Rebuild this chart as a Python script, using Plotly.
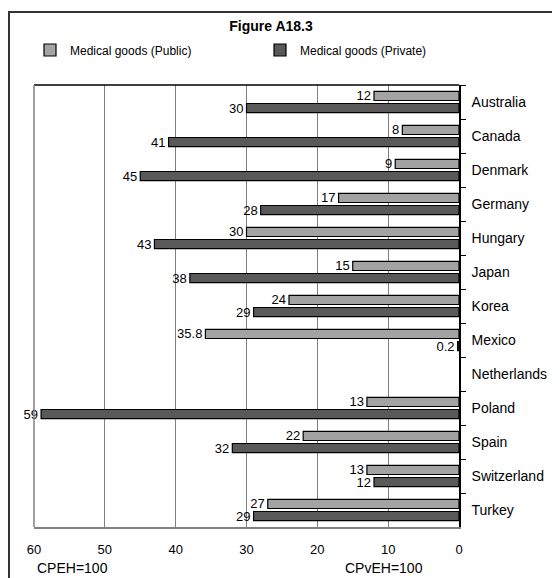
import plotly.graph_objects as go

countries = ["Australia", "Canada", "Denmark", "Germany", "Hungary", "Japan", "Korea",
             "Mexico", "Netherlands", "Poland", "Spain", "Switzerland", "Turkey"]
public_vals = [12, 8, 9, 17, 30, 15, 24, 35.8, None, 13, 22, 13, 27]
private_vals = [30, 41, 45, 28, 43, 38, 29, 0.2, None, 59, 32, 12, 29]
x_ticks = [60, 50, 40, 30, 20, 10, 0]

FONT = "Arial, Liberation Sans, sans-serif"

def labels(vals):
    return ["" if v is None else (f"{v:g}") for v in vals]

# page body has an 8px margin: figure coords = screen coords - 8
W, H = 552, 570
L, R, T, B = 26, 101, 77, 51
pw = W - L - R
ph = H - T - B

def px_to_paper_x(px):
    return (px - L) / pw

def px_to_paper_y(py):
    return (H - B - py) / ph

fig = go.Figure()
fig.add_trace(go.Bar(
    y=countries, x=public_vals, orientation="h", name="Medical goods (Public)",
    marker=dict(color="#a3a3a3", line=dict(color="#000000", width=1.2)),
    text=labels(public_vals), textposition="outside", cliponaxis=False,
    constraintext="none", textfont=dict(size=13, color="#000000", family=FONT),
    legend="legend",
))
fig.add_trace(go.Bar(
    y=countries, x=private_vals, orientation="h", name="Medical goods (Private)",
    marker=dict(color="#595959", line=dict(color="#000000", width=1.2)),
    text=labels(private_vals), textposition="outside", cliponaxis=False,
    constraintext="none", textfont=dict(size=13, color="#000000", family=FONT),
    legend="legend2",
))

leg_common = dict(orientation="h", yanchor="middle", xanchor="left",
                  font=dict(size=12, family=FONT, color="#000000"),
                  bgcolor="rgba(0,0,0,0)", borderwidth=0)

fig.update_layout(
    width=W, height=H,
    margin=dict(l=L, r=R, t=T, b=B, pad=0),
    paper_bgcolor="white", plot_bgcolor="white",
    font=dict(family=FONT, size=13, color="#000000"),
    barmode="group", bargap=0.29, bargroupgap=0.25,
    title=dict(text="<b>Figure A18.3</b>", x=263 / W, xref="container", xanchor="center",
               y=1 - 18 / H, yref="container", yanchor="middle",
               font=dict(size=14, family=FONT, color="#000000")),
    showlegend=True,
    legend=dict(x=px_to_paper_x(22), y=px_to_paper_y(42), **leg_common),
    legend2=dict(x=px_to_paper_x(252), y=px_to_paper_y(42), **leg_common),
    xaxis=dict(range=[60, 0], tickvals=x_ticks, ticktext=[str(v) for v in x_ticks],
               showgrid=True, gridcolor="#808080", gridwidth=1,
               showline=True, linecolor="#808080", linewidth=1.5,
               zeroline=False, ticks="", ticklabelstandoff=10,
               tickfont=dict(size=13, family=FONT)),
    yaxis=dict(autorange="reversed", side="right", showline=True, linecolor="#000000",
               linewidth=1.5, ticks="outside", tickson="boundaries", ticklen=5,
               tickcolor="#000000", showgrid=False, ticklabelstandoff=8,
               tickfont=dict(size=14, family=FONT)),
    shapes=[
        dict(type="line", xref="paper", yref="paper", x0=0, x1=1, y0=1, y1=1,
             line=dict(color="#000000", width=1.5)),
        dict(type="line", xref="paper", yref="paper", x0=0, x1=0, y0=0, y1=1,
             line=dict(color="#808080", width=1.5)),
        dict(type="rect", xref="paper", yref="paper",
             x0=px_to_paper_x(1), x1=1.6, y0=-0.5, y1=px_to_paper_y(4),
             line=dict(color="#333333", width=2), fillcolor="rgba(0,0,0,0)", layer="below"),
    ],
    annotations=[
        dict(text="CPEH=100", x=54.5, xref="x", y=px_to_paper_y(560), yref="paper",
             showarrow=False, xanchor="center", yanchor="middle", font=dict(size=14, family=FONT)),
        dict(text="CPvEH=100", x=10.6, xref="x", y=px_to_paper_y(560), yref="paper",
             showarrow=False, xanchor="center", yanchor="middle", font=dict(size=14, family=FONT)),
    ],
)

fig.write_html("out.html")
